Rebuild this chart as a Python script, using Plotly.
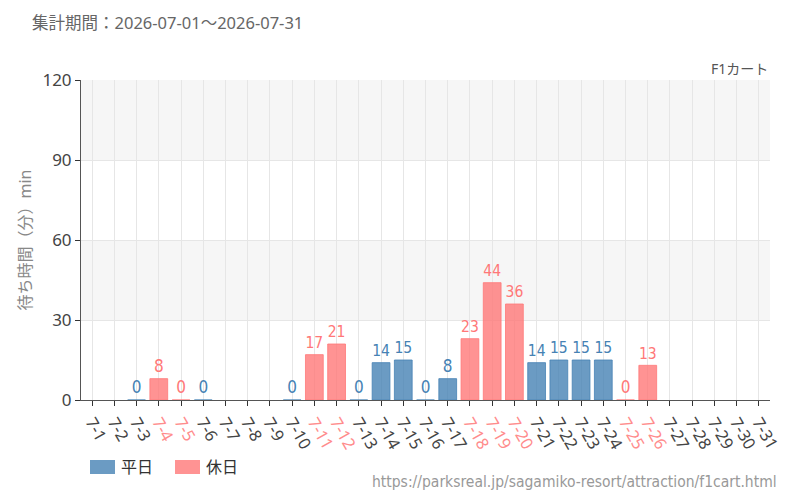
import plotly.graph_objects as go

dates = [f"7-{d}" for d in range(1, 32)]
# None = no data
weekday_vals = [None, None, 0, None, None, 0, None, None, None, 0,
                None, None, 0, 14, 15, 0, 8, None, None, None,
                14, 15, 15, 15, None, None, None, None, None, None, None]
holiday_vals = [None, None, None, 8, 0, None, None, None, None, None,
                17, 21, None, None, None, None, None, 23, 44, 36,
                None, None, None, None, 0, 13, None, None, None, None, None]
holidays = ["7-4", "7-5", "7-11", "7-12", "7-18", "7-19", "7-20", "7-25", "7-26"]
series_names = ["平日", "休日"]

y_ticks = [0, 30, 60, 90, 120]

WK_FILL = "rgba(70,130,180,0.8)"
WK_TEXT = "#4682b4"
HO_FILL = "rgba(255,120,120,0.8)"
HO_TEXT = "#ff7878"
LABEL_FONT = "Liberation Sans Narrow, DejaVu Sans Condensed, Roboto, sans-serif"
SANS = "Noto Sans, Noto Sans CJK JP, sans-serif"

# plot area in pixels: x 81..770, y 80..400
L, R, T, B = 81, 30, 80, 100
PW, PH = 800 - L - R, 500 - T - B


def px(x):
    return (x - L) / PW


def py(y):
    return (500 - B - y) / PH


fig = go.Figure()
for name, vals, fill, tcol in [(series_names[0], weekday_vals, WK_FILL, WK_TEXT),
                               (series_names[1], holiday_vals, HO_FILL, HO_TEXT)]:
    fig.add_trace(go.Bar(
        x=dates, y=vals, name=name,
        marker=dict(color=fill, line=dict(color=fill, width=1)),
        width=0.8,
        text=[("" if v is None else str(v)) for v in vals],
        textposition="outside",
        textfont=dict(color=tcol, size=17, family=LABEL_FONT),
        cliponaxis=False,
        showlegend=False,
    ))

ticktext = [(f'<span style="color:#ff8c8c">{d}</span>' if d in holidays else d) for d in dates]

shapes = []
for lo, hi in [(30, 60), (90, 120)]:
    shapes.append(dict(type="rect", xref="paper", yref="y", x0=0, x1=1, y0=lo, y1=hi,
                       fillcolor="#f6f6f6", line=dict(width=0), layer="below"))

annotations = [
    dict(text="集計期間：2026-07-01～2026-07-31", xref="paper", yref="paper",
         x=px(30), y=py(22), xanchor="left", yanchor="middle", showarrow=False,
         font=dict(size=16.5, color="#666", family=SANS)),
    dict(text="F1カート", xref="paper", yref="paper", x=1, y=py(69),
         xanchor="right", yanchor="middle", showarrow=False,
         font=dict(size=14, color="#555", family=SANS)),
    dict(text="https://parksreal.jp/sagamiko-resort/attraction/f1cart.html",
         xref="paper", yref="paper", x=px(779), y=py(482), xanchor="right",
         yanchor="middle", showarrow=False,
         font=dict(size=15.5, color="#999", family=LABEL_FONT)),
]

# custom legend
for (x0, tx), name, fill in zip([(90, 119), (175, 204)], series_names, [WK_FILL, HO_FILL]):
    shapes.append(dict(type="rect", xref="paper", yref="paper",
                       x0=px(x0), x1=px(x0 + 25), y0=py(474), y1=py(460),
                       fillcolor=fill, line=dict(width=0)))
    annotations.append(dict(text=name, xref="paper", yref="paper", x=px(tx), y=py(467),
                            xanchor="left", yanchor="middle", showarrow=False,
                            font=dict(size=16, color="#333", family=SANS)))

fig.update_layout(
    width=800, height=500,
    margin=dict(l=L, r=R, t=T, b=B, autoexpand=False),
    paper_bgcolor="white", plot_bgcolor="white",
    barmode="overlay",
    showlegend=False,
    shapes=shapes,
    font=dict(family=SANS),
    annotations=annotations,
)
fig.update_xaxes(
    type="category", categoryorder="array", categoryarray=dates,
    tickmode="array", tickvals=dates, ticktext=ticktext,
    tickangle=60, tickfont=dict(size=16.5, color="#444", family=SANS),
    showgrid=True, gridcolor="#e6e6e6", gridwidth=1,
    showline=True, linecolor="#555", linewidth=1,
    ticks="outside", ticklen=5, tickcolor="#333",
    range=[-0.5, 30.5], zeroline=False, automargin=False,
)
fig.update_yaxes(
    range=[0, 120], tickvals=y_ticks,
    tickfont=dict(size=17, color="#444", family=SANS),
    showgrid=True, gridcolor="#e6e6e6", gridwidth=1,
    showline=True, linecolor="#555", linewidth=1,
    ticks="outside", ticklen=5, tickcolor="#333",
    zeroline=False, automargin=False,
    title=dict(text="待ち時間（分）min", font=dict(size=16, color="#888", family=SANS), standoff=6),
)
fig.write_html("out.html")
